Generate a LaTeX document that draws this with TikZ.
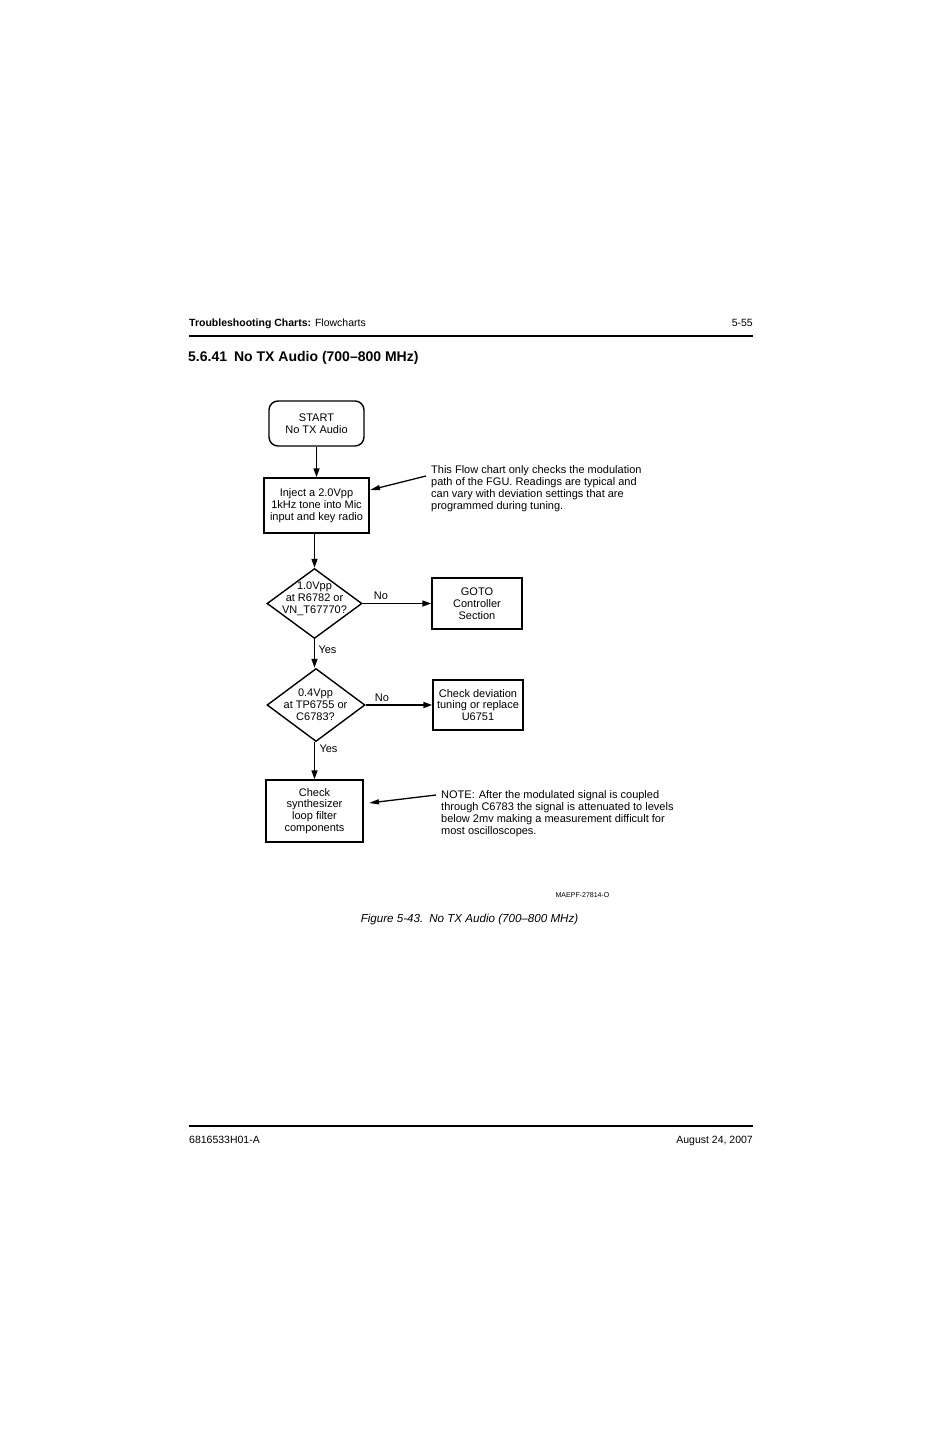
\documentclass[tikz,border=0pt]{standalone}
\usepackage{fontspec}
\setmainfont{Liberation Sans}
\usetikzlibrary{shapes.geometric,arrows.meta}
\begin{document}
\begin{tikzpicture}[x=1pt,y=-1pt,
  box/.style={draw,line width=1.4pt,align=center,inner sep=0pt,font=\fontsize{11}{11.8}\selectfont},
  dia/.style={draw,line width=1.4pt,diamond,inner sep=0pt},
  diatext/.style={align=center,inner sep=0pt,font=\fontsize{11}{11.8}\selectfont},
  flow/.style={line width=1.6pt,-{Triangle[length=9pt,width=6pt]}},
  note/.style={line width=1.3pt,-{Triangle[length=10pt,width=5pt]}},
  lbl/.style={font=\fontsize{11}{12}\selectfont,inner sep=0pt},
  txt/.style={align=left,anchor=north west,inner sep=0pt,font=\fontsize{11}{11.8}\selectfont}]
\useasboundingbox[fill=white] (0,0) rectangle (926,1431);
% header
\node[anchor=base west,inner sep=0pt,font=\fontsize{10.5}{12}\selectfont] (hdr) at (189,326.5) {\textbf{Troubleshooting Charts:} Flowcharts};
\node[anchor=base east,inner sep=0pt,font=\fontsize{10.5}{12}\selectfont] (pg) at (753,326.5) {5-55};
\draw[line width=1.6pt] (189,336) -- (753,336);
\node[anchor=base west,inner sep=0pt,font=\bfseries\fontsize{14}{16}\selectfont] (ttl) at (188,361) {5.6.41\hspace{7pt}No TX Audio (700--800 MHz)};
% nodes
\node[box,rounded corners=9pt,minimum width=95pt,minimum height=45pt] (start) at (316.5,423.5) {START\\No TX Audio};
\node[box,minimum width=105pt,minimum height=55pt] (inject) at (316.5,505.5) {Inject a 2.0Vpp\\1kHz tone into Mic\\input and key radio};
\node[dia,minimum width=95pt,minimum height=70pt] (d1) at (314.5,603.5) {};
\node[diatext] (d1t) at (314.5,599) {1.0Vpp\\at R6782 or\\VN\_T67770?};
\node[box,minimum width=90pt,minimum height=51pt] (goto) at (477,603.5) {GOTO\\Controller\\Section};
\node[dia,minimum width=98pt,minimum height=73pt] (d2) at (316,705) {};
\node[diatext] (d2t) at (315.5,705) {0.4Vpp\\at TP6755 or\\C6783?};
\node[box,minimum width=90pt,minimum height=50pt] (dev) at (478,705) {Check deviation\\tuning or replace\\U6751};
\node[box,minimum width=97pt,minimum height=62pt] (synth) at (314.5,811) {Check\\synthesizer\\loop filter\\components};
% flow
\draw[flow] (start.south) -- (inject.north);
\draw[flow] (inject.south -| d1.north) -- (d1.north);
\draw[flow] (d1.east) -- (goto.west);
\draw[flow] (d1.south) -- (d1.south |- d2.north);
\draw[flow] (d2.east) -- (dev.west);
\draw[flow] (d2.south -| synth.north) -- (synth.north);
\node[lbl] (no1) at (381,596) {No};
\node[lbl] (yes1) at (327.5,650) {Yes};
\node[lbl] (no2) at (382,698) {No};
\node[lbl] (yes2) at (328.5,749) {Yes};
% notes
\node[txt] (n1) at (431,465.5) {This Flow chart only checks the modulation\\path of the FGU. Readings are typical and\\can vary with deviation settings that are\\programmed during tuning.};
\coordinate (n1a) at (426,476);
\draw[note] (n1a) -- (370,490);
\node[txt] (n2) at (441,790.5) {NOTE:\hspace{4pt}After the modulated signal is coupled\\through C6783 the signal is attenuated to levels\\below 2mv making a measurement difficult for\\most oscilloscopes.};
\coordinate (n2a) at (436,795);
\draw[note] (n2a) -- (369,803);
\node[inner sep=0pt,font=\fontsize{7}{8}\selectfont] (code) at (582.5,895) {MAEPF-27814-O};
\node[inner sep=0pt,font=\itshape\fontsize{11.6}{13}\selectfont] (cap) at (469.5,919) {Figure 5-43.\hspace{6pt}No TX Audio (700--800 MHz)};
% footer
\draw[line width=1.6pt] (189,1126) -- (753,1126);
\node[anchor=base west,inner sep=0pt,font=\fontsize{10.5}{12}\selectfont] (ft1) at (189,1143) {6816533H01-A};
\node[anchor=base east,inner sep=0pt,font=\fontsize{10.5}{12}\selectfont] (ft2) at (753,1143) {August 24, 2007};
\end{tikzpicture}
\end{document}
